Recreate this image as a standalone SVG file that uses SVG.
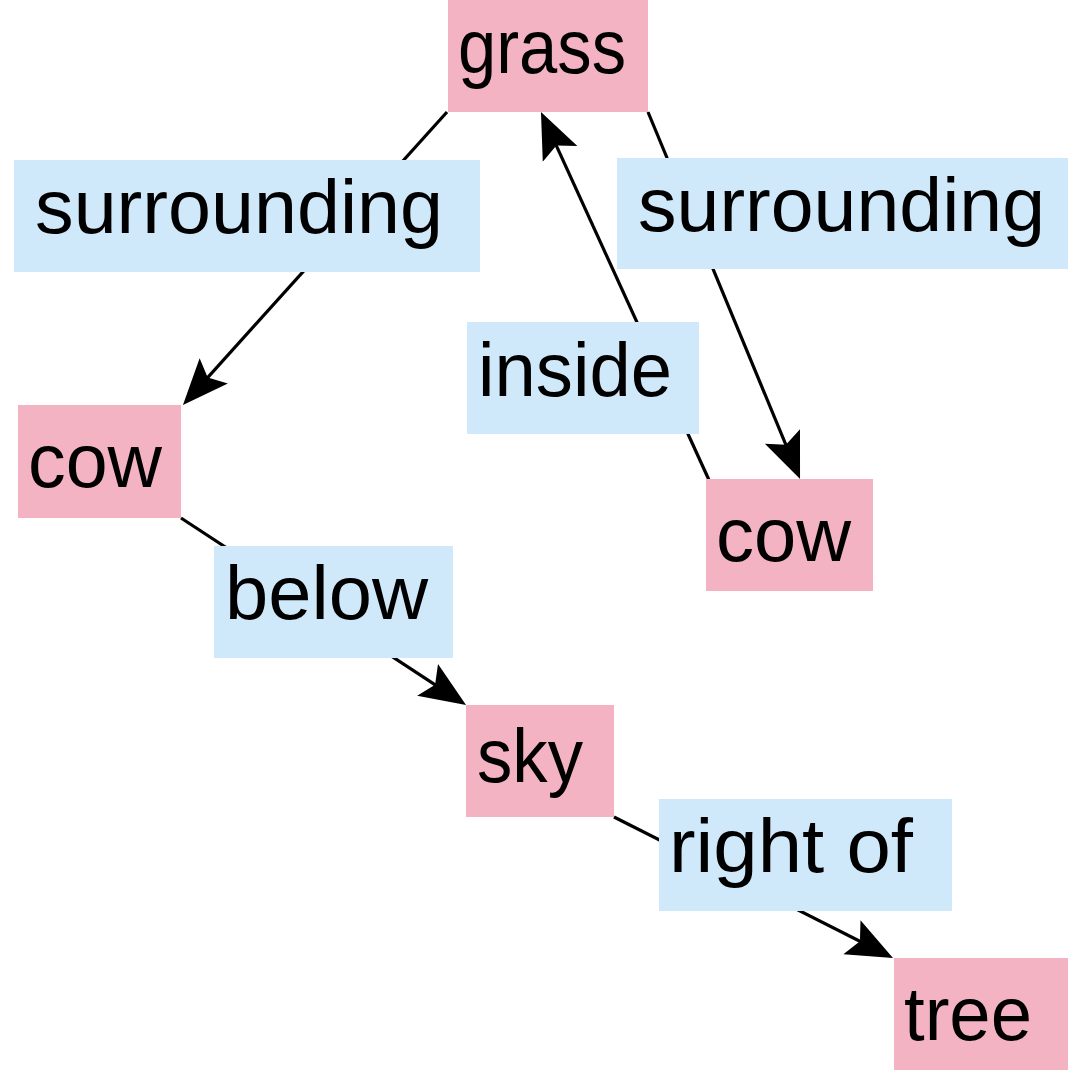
<svg xmlns="http://www.w3.org/2000/svg" width="1070" height="1071" viewBox="0 0 1070 1071">
<style>
.obj{fill:#f4b3c2}
.rel{fill:#d0e9fa}
.t{font-family:"Liberation Sans",Arial,sans-serif;font-size:76px;fill:#000}
.e{stroke:#000;stroke-width:3.2;fill:none;marker-end:url(#ah)}
</style>
<defs>
<marker id="ah" markerUnits="userSpaceOnUse" markerWidth="48" markerHeight="40" viewBox="0 0 48 40" refX="31" refY="20" orient="auto">
<path d="M46,20 L0,1 L9,20 L0,39 Z" fill="#000"/>
</marker>
</defs>
<rect width="1070" height="1071" fill="#fff"/>
<g id="connectors">
<path class="e" d="M447,112 L193,393.9"/>
<path class="e" d="M648,112 L794.3,465.1"/>
<path class="e" d="M709,480 L547.2,125.6"/>
<path class="e" d="M181,518 L453.5,696.8"/>
<path class="e" d="M614,817 L879.6,951.2"/>
</g>
<g id="grass"><rect class="obj" x="448" y="0" width="200" height="112"/><text class="t" x="458" y="73" textLength="168" lengthAdjust="spacingAndGlyphs">grass</text></g>
<g id="surrounding1"><rect class="rel" x="14" y="160" width="466" height="112"/><text class="t" x="35" y="233" textLength="408" lengthAdjust="spacingAndGlyphs">surrounding</text></g>
<g id="surrounding2"><rect class="rel" x="617" y="158" width="451" height="111"/><text class="t" x="638" y="231" textLength="407" lengthAdjust="spacingAndGlyphs">surrounding</text></g>
<g id="inside"><rect class="rel" x="467" y="322" width="232" height="112"/><text class="t" x="478" y="396" textLength="194" lengthAdjust="spacingAndGlyphs">inside</text></g>
<g id="cow1"><rect class="obj" x="18" y="405" width="163" height="113"/><text class="t" x="28" y="487" textLength="134" lengthAdjust="spacingAndGlyphs">cow</text></g>
<g id="cow2"><rect class="obj" x="706" y="479" width="167" height="112"/><text class="t" x="716" y="561" textLength="135" lengthAdjust="spacingAndGlyphs">cow</text></g>
<g id="below"><rect class="rel" x="214" y="546" width="239" height="112"/><text class="t" x="225" y="619" textLength="203" lengthAdjust="spacingAndGlyphs">below</text></g>
<g id="sky"><rect class="obj" x="466" y="705" width="148" height="112"/><text class="t" x="477" y="782" textLength="106" lengthAdjust="spacingAndGlyphs">sky</text></g>
<g id="rightof"><rect class="rel" x="659" y="799" width="293" height="112"/><text class="t" x="669" y="872" textLength="244" lengthAdjust="spacingAndGlyphs">right of</text></g>
<g id="tree"><rect class="obj" x="894" y="958" width="174" height="112"/><text class="t" x="904" y="1040" textLength="128" lengthAdjust="spacingAndGlyphs">tree</text></g>
</svg>
